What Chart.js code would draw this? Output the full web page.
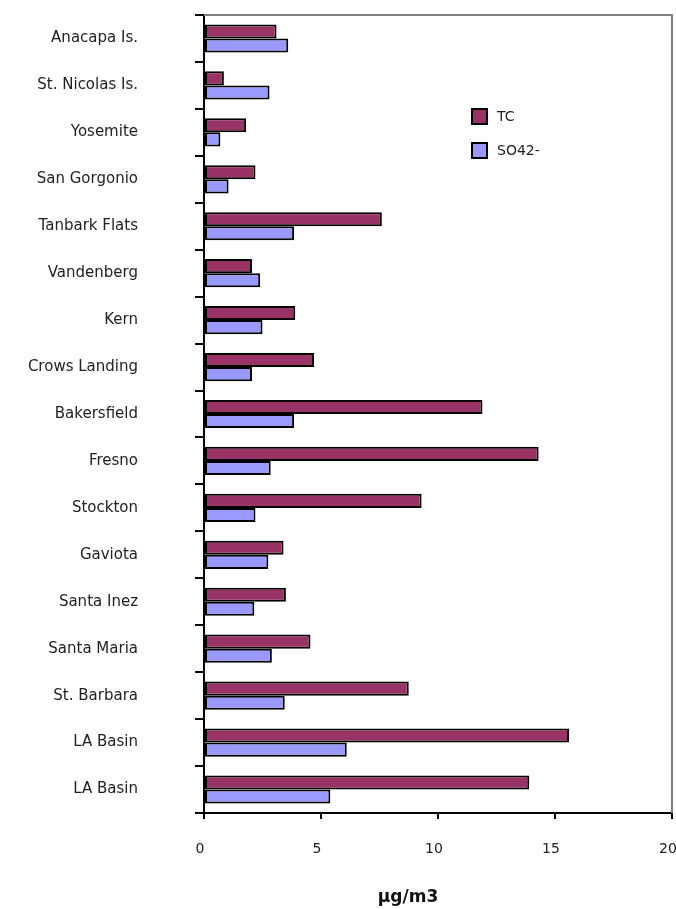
<!DOCTYPE html>
<html>
<head>
<meta charset="utf-8">
<title>TC / SO42-</title>
<script src="https://cdn.jsdelivr.net/npm/chart.js@4.4.1/dist/chart.umd.min.js"></script>
<style>
  html, body { margin: 0; padding: 0; background: #fff; }
  #grafico { display: block; }
</style>
</head>
<body>
<canvas id="grafico" width="676" height="909"></canvas>
<script>
// sitios de muestreo (de arriba hacia abajo)
const sitios = [
  "Anacapa Is.", "St. Nicolas Is.", "Yosemite", "San Gorgonio", "Tanbark Flats",
  "Vandenberg", "Kern", "Crows Landing", "Bakersfield", "Fresno", "Stockton",
  "Gaviota", "Santa Inez", "Santa Maria", "St. Barbara", "LA Basin", "LA Basin"
];

// concentraciones en ug/m3
const valoresTC = [3.1, 0.85, 1.8, 2.2, 7.6, 2.05, 3.9, 4.7, 11.9, 14.3, 9.3, 3.4, 3.5, 4.55, 8.75, 15.6, 13.9];
const valoresSO4 = [3.6, 2.8, 0.7, 1.05, 3.85, 2.4, 2.5, 2.05, 3.85, 2.85, 2.2, 2.75, 2.15, 2.9, 3.45, 6.1, 5.4];

const series = ["TC", "SO42-"];
const colores = ["#993366", "#9999ff"];
const ejeX = { min: 0, max: 20, paso: 5 };
const tituloEje = "\u00b5g/m3";

const fuente = "DejaVu Sans";

// marco gris arriba y a la derecha del area de trazado
const marco = {
  id: "marco",
  beforeDatasetsDraw(chart) {
    const { ctx, chartArea: a } = chart;
    ctx.save();
    ctx.strokeStyle = "#808080";
    ctx.lineWidth = 2;
    ctx.beginPath();
    ctx.moveTo(a.left, a.top);
    ctx.lineTo(a.right, a.top);
    ctx.lineTo(a.right, a.bottom);
    ctx.stroke();
    ctx.restore();
  },
};

// leyenda dentro del grafico
const leyenda = {
  id: "leyenda",
  afterDraw(chart) {
    const ctx = chart.ctx;
    ctx.save();
    ctx.font = "14px '" + fuente + "'";
    ctx.textBaseline = "middle";
    chart.data.datasets.forEach((ds, i) => {
      const y = 108 + i * 34;
      ctx.fillStyle = ds.backgroundColor;
      ctx.fillRect(471, y, 17, 17);
      ctx.strokeStyle = "#000";
      ctx.lineWidth = 2;
      ctx.strokeRect(472, y + 1, 15, 15);
      ctx.fillStyle = "#222";
      ctx.fillText(ds.label, 497, y + 9);
    });
    ctx.restore();
  },
};

// unidad debajo del eje x
const unidad = {
  id: "unidad",
  afterDraw(chart) {
    const { ctx, chartArea: a } = chart;
    ctx.save();
    ctx.font = "bold 17px '" + fuente + "'";
    ctx.fillStyle = "#111";
    ctx.textAlign = "center";
    ctx.textBaseline = "middle";
    ctx.fillText(tituloEje, (a.left + a.right) / 2 - 30, 898);
    ctx.restore();
  },
};

new Chart(document.getElementById("grafico"), {
  type: "bar",
  data: {
    labels: sitios,
    datasets: [
      {
        label: series[0],
        data: valoresTC,
        backgroundColor: colores[0],
        borderColor: "#000",
        borderWidth: 2,
        borderSkipped: false,
      },
      {
        label: series[1],
        data: valoresSO4,
        backgroundColor: colores[1],
        borderColor: "#000",
        borderWidth: 2,
        borderSkipped: false,
      },
    ],
  },
  options: {
    responsive: false,
    animation: false,
    indexAxis: "y",
    layout: { padding: { left: 0, top: 15, right: 4, bottom: 0 } },
    datasets: {
      bar: { categoryPercentage: 0.6, barPercentage: 1.0 },
    },
    scales: {
      x: {
        min: ejeX.min,
        max: ejeX.max,
        ticks: {
          stepSize: ejeX.paso,
          color: "#222",
          font: { family: fuente, size: 14 },
          padding: 22,
          labelOffset: -4,
          maxRotation: 0,
        },
        grid: {
          drawOnChartArea: false,
          drawTicks: true,
          tickLength: 6,
          color: "#000",
          lineWidth: 2,
        },
        border: { display: true, color: "#000", width: 2 },
        afterFit(scale) {
          scale.height = 96;
          scale.paddingLeft = 0;
          scale.paddingRight = 0;
        },
      },
      y: {
        offset: true,
        ticks: {
          color: "#222",
          font: { family: fuente, size: 15 },
          padding: 57,
          autoSkip: false,
        },
        grid: {
          offset: true,
          drawOnChartArea: false,
          drawTicks: true,
          tickLength: 9,
          color: "#000",
          lineWidth: 2,
        },
        border: { display: true, color: "#000", width: 2 },
        afterFit(scale) {
          scale.width = 204;
          scale.paddingTop = 0;
          scale.paddingBottom = 0;
        },
      },
    },
    plugins: {
      legend: { display: false },
      tooltip: { enabled: true },
    },
  },
  plugins: [marco, leyenda, unidad],
});
</script>
</body>
</html>
